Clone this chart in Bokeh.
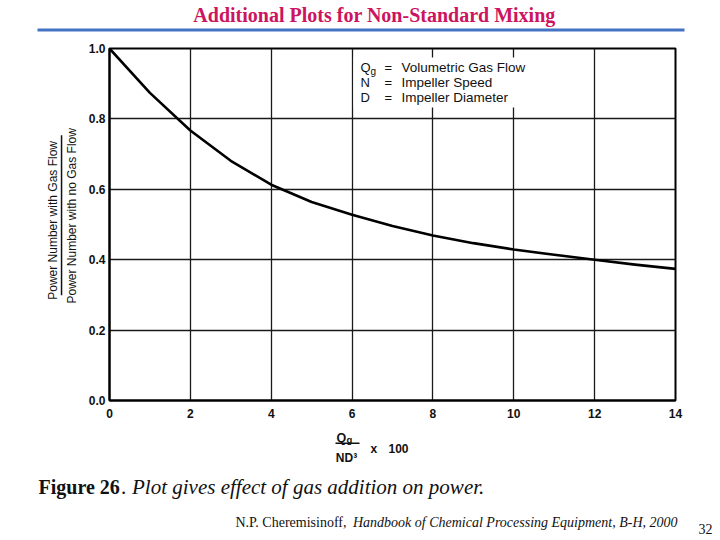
import math
from bokeh.plotting import figure
from bokeh.layouts import column, row
from bokeh.models import Range1d, Label, BoxAnnotation, FixedTicker, PrintfTickFormatter
from bokeh.embed import file_html
from bokeh.resources import INLINE

# ---- data ----
flow_ratio_x100 = [0, 1, 2, 3, 4, 5, 6, 7, 8, 9, 10, 11, 12, 13, 14]
power_ratio = [1.0, 0.874, 0.767, 0.681, 0.613, 0.564, 0.528, 0.496, 0.469,
               0.447, 0.429, 0.414, 0.400, 0.386, 0.374]
x_ticks = [0, 2, 4, 6, 8, 10, 12, 14]
y_ticks = [0.0, 0.2, 0.4, 0.6, 0.8, 1.0]

title_text = "Additional Plots for Non-Standard Mixing"
y_label_top = "Power Number with Gas Flow"
y_label_bottom = "Power Number with no Gas Flow"
legend_symbols = ["Q", "N", "D"]
legend_eq = ["=", "=", "="]
legend_desc = ["Volumetric Gas Flow", "Impeller Speed", "Impeller Diameter"]
caption_bold = "Figure 26"
caption_italic = ". Plot gives effect of gas addition on power."
cite_plain = "N.P. Cheremisinoff,"
cite_italic = "Handbook of Chemical Processing Equipment, B-H, 2000"
page_no = "32"

FONT_S = "Liberation Sans"
FONT_R = "Liberation Serif"
W = 716
# page layout (page pixels)
HEAD_B = 40          # header figure: y 0..40
MID_B = 425          # middle row: y 40..425
FOOT_B = 536         # footer: y 425..536
SPLIT = 80           # y-label panel: x 0..80
FL, FR, FT, FB = 109, 675, 48, 400   # chart frame


def blank(w, x0, x1, ytop, ybot):
    f = figure(width=w, height=ybot - ytop, x_range=Range1d(x0, x1),
               y_range=Range1d(ybot, ytop), output_backend="svg", toolbar_location=None,
               x_axis_location=None, y_axis_location=None,
               min_border_left=0, min_border_right=0, min_border_top=0, min_border_bottom=0)
    f.grid.visible = False
    f.outline_line_color = None
    f.background_fill_color = "white"
    f.border_fill_color = "white"
    return f


def lab(f, x, y, text, size, font=FONT_S, style="normal", align="left", color="#111111",
        angle=0.0, baseline="middle"):
    f.add_layout(Label(x=x, y=y, text=text, text_font=font, text_font_size=f"{size}px",
                       text_font_style=style, text_align=align, text_baseline=baseline,
                       text_color=color, angle=angle))


def bar(f, x0, x1, y0, y1, color="#111111"):
    f.add_layout(BoxAnnotation(left=x0, right=x1, top=y0, bottom=y1,
                               fill_color=color, fill_alpha=1.0, line_alpha=0))


# ---- header ----
head = blank(W, 0, W, 0, HEAD_B)
lab(head, 374, 14, title_text, 20, font=FONT_R, style="bold", align="center", color="#CC1460")
bar(head, 37, 684, 28, 31, color="#4472C4")

# ---- y label panel ----
ylab = blank(SPLIT, 0, SPLIT, HEAD_B, MID_B)
lab(ylab, 52, 228, y_label_top, 12, angle=math.pi / 2, align="center")
bar(ylab, 60.3, 61.8, 135, 310)
lab(ylab, 71, 223, y_label_bottom, 12, angle=math.pi / 2, align="center")

# ---- main chart ----
XMAX, YMAX = 14.0, 1.0
p = figure(width=W - SPLIT, height=MID_B - HEAD_B, x_range=Range1d(0, XMAX), y_range=Range1d(0, YMAX),
           output_backend="svg", toolbar_location=None,
           min_border_left=FL - SPLIT, min_border_right=W - FR,
           min_border_top=FT - HEAD_B, min_border_bottom=MID_B - FB)
p.background_fill_color = "white"
p.border_fill_color = "white"
p.outline_line_color = "black"
p.outline_line_width = 2

for ax in (p.xaxis[0], p.yaxis[0]):
    ax.axis_line_color = "black"
    ax.axis_line_width = 2
    ax.major_tick_in = 0
    ax.major_tick_out = 0
    ax.minor_tick_in = 0
    ax.minor_tick_out = 0
    ax.major_label_text_font = FONT_S
    ax.major_label_text_font_size = "12px"
    ax.major_label_text_font_style = "bold"
    ax.major_label_text_color = "#111111"

p.xaxis[0].ticker = FixedTicker(ticks=x_ticks)
p.yaxis[0].ticker = FixedTicker(ticks=y_ticks)
p.yaxis[0].formatter = PrintfTickFormatter(format="%.1f")
p.xaxis[0].major_label_standoff = 8
p.yaxis[0].major_label_standoff = 4

p.xgrid.ticker = FixedTicker(ticks=x_ticks)
p.ygrid.ticker = FixedTicker(ticks=y_ticks)
p.grid.grid_line_color = "#1a1a1a"
p.grid.grid_line_width = 1.3

p.line(flow_ratio_x100, power_ratio, line_color="black", line_width=2.6, line_join="round")


def cx(sx):
    return (sx - FL) / (FR - FL) * XMAX


def cy(sy):
    return (FB - sy) / (FB - FT) * YMAX


p.add_layout(BoxAnnotation(left=cx(353), right=cx(532), top=cy(57), bottom=cy(107),
                           fill_color="white", fill_alpha=1.0, line_alpha=0))
rows_y = [67, 82, 97]
for i, yy in enumerate(rows_y):
    lab(p, cx(360), cy(yy), legend_symbols[i], 13)
    lab(p, cx(384), cy(yy), legend_eq[i], 13)
    lab(p, cx(401), cy(yy), legend_desc[i], 13.5)
lab(p, cx(370), cy(rows_y[0] + 4), "g", 10)

# ---- footer ----
foot = blank(W, 0, W, MID_B, FOOT_B)
lab(foot, 336, 437, "Q", 12.5, style="bold", baseline="alphabetic")
lab(foot, 346, 438.5, "g", 9.5, style="bold", baseline="alphabetic")
bar(foot, 335, 359, 442, 443.5)
lab(foot, 346, 457, "ND³", 12, style="bold", align="center")
lab(foot, 370, 448, "x", 12, style="bold")
lab(foot, 388, 448, "100", 12, style="bold")
lab(foot, 38, 486, caption_bold, 20, font=FONT_R, style="bold")
lab(foot, 121, 486, caption_italic, 21, font=FONT_R, style="italic")
lab(foot, 235, 522, cite_plain, 14, font=FONT_R)
lab(foot, 677, 522, cite_italic, 14, font=FONT_R, style="italic", align="right")
lab(foot, 705, 528, page_no, 14, font=FONT_R, align="center")

layout = column(head, row(ylab, p), foot)
open("out.html", "w").write(file_html(layout, INLINE))
